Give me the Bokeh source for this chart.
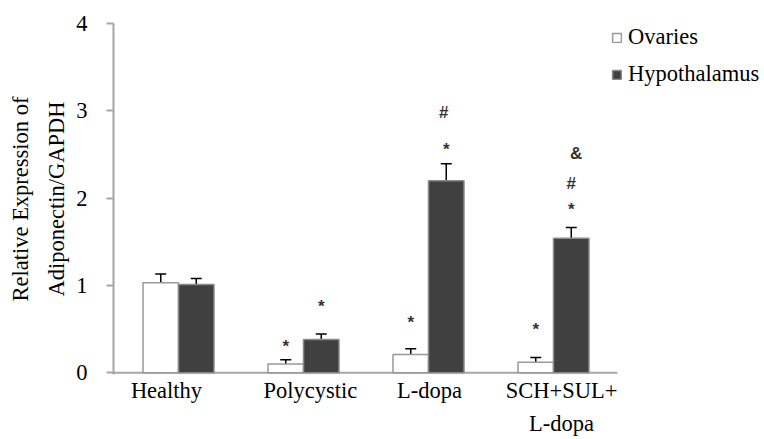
from bokeh.plotting import figure
from bokeh.models import (Range1d, Whisker, TeeHead, ColumnDataSource, LinearAxis,
                          Legend, LegendItem, SingleIntervalTicker, FixedTicker)
from bokeh.core.properties import value
from bokeh.embed import file_html
from bokeh.resources import INLINE

# ---------------- data ----------------
groups = ["Healthy", "Polycystic", "L-dopa", "SCH+SUL+\nL-dopa"]
ovaries = [1.03, 0.10, 0.21, 0.12]
ovaries_err = [0.10, 0.05, 0.065, 0.055]
hypothalamus = [1.01, 0.38, 2.20, 1.54]
hypothalamus_err = [0.07, 0.065, 0.195, 0.125]

# significance marks (group index, symbol, height)
ov_mark_group = [1, 2, 3]
ov_mark_text = ["*", "*", "*"]
ov_mark_y = [0.30, 0.575, 0.50]
hy_mark_group = [1, 2, 2, 3, 3, 3]
hy_mark_text = ["*", "*", "#", "*", "#", "&"]
hy_mark_y = [0.755, 2.56, 2.985, 1.875, 2.168, 2.515]

# ---------------- styles / layout ----------------
SERIF = "Liberation Serif"
SANS = "Liberation Sans"
FS = "22.5px"
AXIS_GRAY = "#a6a6a6"
BAR_W = 0.284
OFF = 0.142
X_START = -0.02
CAT_PX = 125.0
FRAME_W = 764 - 113
label_dx = [-0.096, 0.054, 0.008, 0.064]   # small horizontal nudges of category labels
mark_dx = [0, 0, -0.02, 0, 0, 0.04]          # small nudges of the hypothalamus marks

centers = [i + 0.5 for i in range(len(groups))]

p = figure(width=764, height=439, output_backend="svg", toolbar_location=None,
           x_range=Range1d(X_START, X_START + FRAME_W / CAT_PX),
           y_range=Range1d(-0.02, 4),
           min_border_left=113, min_border_right=0,
           min_border_top=23, min_border_bottom=65)
p.outline_line_color = None
p.xgrid.grid_line_color = None
p.ygrid.grid_line_color = None
p.background_fill_color = "white"

src = ColumnDataSource(dict(
    xo=[c - OFF for c in centers], xh=[c + OFF for c in centers],
    ov=ovaries, hy=hypothalamus,
    ov_lo=[v - e for v, e in zip(ovaries, ovaries_err)],
    ov_hi=[v + e for v, e in zip(ovaries, ovaries_err)],
    hy_lo=[v - e for v, e in zip(hypothalamus, hypothalamus_err)],
    hy_hi=[v + e for v, e in zip(hypothalamus, hypothalamus_err)],
))

# x axis line (only under the categories)
p.segment(x0=X_START, y0=0, x1=len(groups) + 0.01, y1=0, line_color=AXIS_GRAY, line_width=2)

r_ov = p.vbar(x="xo", top="ov", width=BAR_W, source=src,
              fill_color="white", line_color="#999999", line_width=1.5)
r_hy = p.vbar(x="xh", top="hy", width=BAR_W, source=src,
              fill_color="#404040", line_color="#8a8a8a", line_width=1.5)

for base, lo, hi in (("xo", "ov_lo", "ov_hi"), ("xh", "hy_lo", "hy_hi")):
    w = Whisker(base=base, lower=lo, upper=hi, source=src,
                line_color="black", line_width=1.5,
                upper_head=TeeHead(size=11, line_color="black", line_width=1.5),
                lower_head=TeeHead(size=11, line_color="black", line_width=1.5))
    p.add_layout(w)

# significance marks
ms1 = ColumnDataSource(dict(x=[centers[i] - OFF for i in ov_mark_group], t=ov_mark_text, y=ov_mark_y))
ms2 = ColumnDataSource(dict(x=[centers[i] + OFF + d for i, d in zip(hy_mark_group, mark_dx)],
                            t=hy_mark_text, y=hy_mark_y))
for s in (ms1, ms2):
    p.text(x="x", y="y", text="t", source=s,
           text_font=value(SANS), text_font_style="bold", text_font_size="17px",
           text_color="#333333", text_align="center", text_baseline="middle")

# y axis
yax = p.yaxis[0]
yax.ticker = SingleIntervalTicker(interval=1, num_minor_ticks=0)
yax.axis_line_color = AXIS_GRAY
yax.axis_line_width = 2
yax.major_tick_line_color = AXIS_GRAY
yax.major_tick_line_width = 2
yax.major_tick_in = 0
yax.major_tick_out = 7
yax.minor_tick_line_color = None
yax.major_label_text_font = SERIF
yax.major_label_text_font_size = FS
yax.major_label_text_color = "black"
yax.major_label_standoff = 19
yax.axis_label = "Relative Expression of\nAdiponectin/GAPDH"
yax.axis_label_text_font = SERIF
yax.axis_label_text_font_size = FS
yax.axis_label_text_font_style = "normal"
yax.axis_label_text_color = "black"
yax.axis_label_text_line_height = 1.45
yax.axis_label_standoff = 4

# x axis: category labels as tick labels (ticks invisible); second text line on a second axis
tick_pos = [round(c + d, 3) for c, d in zip(centers, label_dx)]
lines = [g.split("\n") for g in groups]


def style_x(ax, standoff):
    ax.axis_line_color = None
    ax.major_tick_line_color = None
    ax.major_tick_in = 0
    ax.major_tick_out = 0
    ax.minor_tick_line_color = None
    ax.major_label_text_font = SERIF
    ax.major_label_text_font_size = FS
    ax.major_label_text_color = "black"
    ax.major_label_text_line_height = 1.0
    ax.major_label_standoff = standoff


xax = p.xaxis[0]
xax.ticker = FixedTicker(ticks=tick_pos, minor_ticks=[])
xax.major_label_overrides = {t: l[0] for t, l in zip(tick_pos, lines)}
style_x(xax, 3)

t2 = [t for t, l in zip(tick_pos, lines) if len(l) > 1]
xax2 = LinearAxis(ticker=FixedTicker(ticks=t2, minor_ticks=[]),
                  major_label_overrides={t: l[1] for t, l in zip(tick_pos, lines) if len(l) > 1})
style_x(xax2, 5)
p.add_layout(xax2, "below")

legend = Legend(items=[LegendItem(label="Ovaries", renderers=[r_ov]),
                       LegendItem(label="Hypothalamus", renderers=[r_hy])],
                location=(498, 287), orientation="vertical",
                glyph_width=11, glyph_height=11, label_standoff=6,
                padding=0, margin=0, spacing=11,
                border_line_color=None, background_fill_alpha=0,
                label_text_font=SERIF, label_text_font_size=FS,
                label_text_color="black")
p.add_layout(legend)

open("out.html", "w").write(file_html(p, INLINE))
